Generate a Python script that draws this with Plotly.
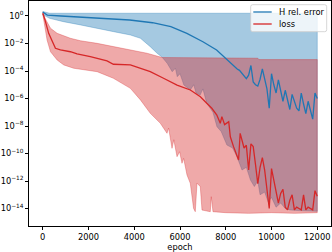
import plotly.graph_objects as go

# ---------------- data (values stored as log10 exponents) ----------------
h_epochs = [0, 200, 800, 1600, 2500, 3800, 4800, 5600, 6300, 7000, 7600, 8000, 8200, 8500,
            8600, 8700, 8800, 8900, 9000, 9100, 9200, 9300, 9400, 9500, 9600, 9700, 9800, 9900,
            10000, 10100, 10200, 10300, 10400, 10500, 10600, 10700, 10800, 10900, 11000, 11100,
            11200, 11300, 11400, 11500, 11600, 11700, 11800, 11900, 12000]
h_log = [0.29, 0.07, 0.0, -0.07, -0.15, -0.29, -0.49, -0.78, -1.26, -1.87, -2.47, -3.08, -3.44, -3.85,
         -3.95, -4.17, -4.35, -4.55, -4.3, -3.6, -4.8, -5.0, -5.1, -4.6, -3.85, -4.6, -5.3, -6.7,
         -4.2, -5.0, -5.6, -4.65, -5.5, -6.2, -5.4, -6.1, -6.8, -5.7, -6.3, -6.7,
         -6.9, -5.6, -6.4, -7.1, -6.2, -6.9, -7.5, -5.6, -6.0]

h_up_epochs = [0, 300, 6000, 12000]
h_up_log = [0.33, 0.2, 0.2, 0.2]

h_lo_epochs = [0, 300, 900, 1650, 2400, 3100, 3830, 4270, 4700, 5000, 5220, 5440, 5660, 5800,
               5880, 6000, 6170, 6450, 6600, 6700, 6880, 7000, 7170, 7440, 7616, 7800, 8050,
               8300, 8490, 8710, 8900, 9080, 9250, 9400, 9500, 9700, 9850, 10000, 10200, 10400,
               10600, 10800, 11200, 11600, 12000]
h_lo_log = [0.1, -0.17, -0.41, -0.65, -0.89, -1.14, -1.38, -1.62, -2.23, -2.71, -3.0, -3.44, -4.05, -3.8,
            -4.41, -4.2, -5.02, -5.38, -5.0, -5.6, -5.75, -5.3, -6.35, -7.0, -8.05, -8.4, -9.38,
            -9.6, -10.23, -11.2, -11.0, -11.93, -12.4, -12.0, -13.0, -12.8, -13.5, -13.2, -13.9, -13.6,
            -14.0, -14.1, -14.15, -14.2, -14.2]

loss_epochs = [0, 100, 260, 410, 555, 773, 1210, 1500, 2080, 2810, 3090, 3830, 4270, 4700, 5280,
               5870, 6450, 6890, 7170, 7390, 7610, 7760, 7830, 7950, 8130, 8200, 8340, 8560, 8630,
               8700, 8800, 8900, 9000, 9100, 9200, 9300, 9400, 9500, 9600, 9700, 9800, 9900,
               10000, 10100, 10200, 10300, 10400, 10500, 10600, 10700, 10800, 10900, 11000, 11100,
               11200, 11300, 11400, 11500, 11600, 11700, 11800, 11900, 12000]
loss_log = [0.2, -0.29, -1.26, -1.87, -2.35, -2.47, -2.6, -2.76, -2.96, -3.27, -3.51, -3.56, -3.8, -4.05, -4.53,
            -5.02, -5.38, -5.87, -6.35, -6.71, -7.2, -7.8, -7.32, -7.9, -7.69, -8.78, -9.5, -10.47, -8.53,
            -9.0, -9.6, -9.4, -11.2, -9.3, -9.5, -10.8, -12.2, -11.0, -10.3, -11.2, -12.8, -14.0,
            -11.1, -12.0, -12.8, -13.6, -12.9, -12.6, -13.9, -14.1, -13.4, -13.0, -14.1, -13.9,
            -14.0, -14.1, -13.0, -14.1, -13.9, -14.0, -14.1, -12.7, -13.1]

loss_up_epochs = [0, 100, 340, 630, 1210, 1650, 2380, 3090, 3830, 4560, 5220, 9400, 9450, 12000]
loss_up_log = [0.31, -0.17, -0.89, -1.26, -1.62, -1.8, -1.99, -2.23, -2.47, -2.71, -3.02, -3.07, -3.17, -3.17]

loss_lo_epochs = [0, 190, 340, 630, 920, 1355, 1790, 2380, 3090, 3830, 4270, 4703, 5140, 5432, 5502,
                  5651, 5730, 5870, 5983, 6088, 6158, 6306, 6450, 6594, 6668, 6743, 6887, 6961, 7324,
                  7367, 7441, 8000, 9000, 10000, 11000, 12000]
loss_lo_log = [0.15, -1.75, -2.6, -3.2, -3.56, -3.8, -3.93, -4.05, -4.53, -5.26, -6.1, -7.08, -7.8, -8.53, -8.15,
               -9.62, -9.0, -10.23, -9.87, -10.71, -10.35, -11.56, -12.17, -13.99, -14.23, -12.15, -12.41, -14.11, -14.23,
               -13.14, -14.23, -14.3, -14.35, -14.3, -14.35, -14.3]

x_tick_vals = [0, 2000, 4000, 6000, 8000, 10000, 12000]
y_tick_exps = [0, -2, -4, -6, -8, -10, -12, -14]
legend_labels = ["H rel. error", "loss"]

# ---------------- styling ----------------
BLUE = "#1f77b4"
RED = "#d62728"
BLUE_FILL = "rgba(31,119,180,0.4)"
RED_FILL = "rgba(214,39,40,0.4)"
FONT = "DejaVu Sans"
FS = 8.3

W, H = 332, 252
L, R, T, B = 29, 1, 1, 26
PW, PH = W - L - R, H - T - B


def pw(v):
    return [10 ** e for e in v]


def band(xu, yu, xl, yl):
    return list(xu) + list(reversed(xl)), pw(yu) + list(reversed(pw(yl)))


fig = go.Figure()

bx, by = band(h_up_epochs, h_up_log, h_lo_epochs, h_lo_log)
fig.add_trace(go.Scatter(x=bx, y=by, fill="toself", fillcolor=BLUE_FILL, mode="lines",
                         line=dict(color="rgba(31,119,180,0.4)", width=0.8), showlegend=False,
                         hoverinfo="skip"))
rx, ry = band(loss_up_epochs, loss_up_log, loss_lo_epochs, loss_lo_log)
fig.add_trace(go.Scatter(x=rx, y=ry, fill="toself", fillcolor=RED_FILL, mode="lines",
                         line=dict(color="rgba(214,39,40,0.4)", width=0.8), showlegend=False,
                         hoverinfo="skip"))
fig.add_trace(go.Scatter(x=h_epochs, y=pw(h_log), mode="lines", name=legend_labels[0],
                         line=dict(color=BLUE, width=1.3), showlegend=False))
fig.add_trace(go.Scatter(x=loss_epochs, y=pw(loss_log), mode="lines", name=legend_labels[1],
                         line=dict(color=RED, width=1.3), showlegend=False))


# ---------------- manual matplotlib-like legend ----------------
def px_x(p):
    return (p - L) / PW


def px_y(p):
    return (H - B - p) / PH


lx0, lx1, ly0, ly1 = 250.7, 326.7, 4.7, 31.7
r = 2.0
path = (f"M{px_x(lx0 + r)},{px_y(ly0)} L{px_x(lx1 - r)},{px_y(ly0)} "
        f"Q{px_x(lx1)},{px_y(ly0)} {px_x(lx1)},{px_y(ly0 + r)} "
        f"L{px_x(lx1)},{px_y(ly1 - r)} Q{px_x(lx1)},{px_y(ly1)} {px_x(lx1 - r)},{px_y(ly1)} "
        f"L{px_x(lx0 + r)},{px_y(ly1)} Q{px_x(lx0)},{px_y(ly1)} {px_x(lx0)},{px_y(ly1 - r)} "
        f"L{px_x(lx0)},{px_y(ly0 + r)} Q{px_x(lx0)},{px_y(ly0)} {px_x(lx0 + r)},{px_y(ly0)} Z")
shapes = [dict(type="path", xref="paper", yref="paper", path=path,
               fillcolor="rgba(255,255,255,0.8)", line=dict(color="#cccccc", width=0.8), layer="above")]
annotations = []
for label, color, yy in [(legend_labels[0], BLUE, 12.0), (legend_labels[1], RED, 24.0)]:
    shapes.append(dict(type="line", xref="paper", yref="paper", x0=px_x(253.3), x1=px_x(271.7),
                       y0=px_y(yy), y1=px_y(yy), line=dict(color=color, width=1.3), layer="above"))
    annotations.append(dict(xref="paper", yref="paper", x=px_x(277.0), y=px_y(yy), text=label,
                            showarrow=False, xanchor="left", yanchor="middle",
                            font=dict(family=FONT, size=FS, color="black")))

axis_common = dict(showgrid=False, zeroline=False, showline=True, mirror=True, linecolor="black",
                   linewidth=0.8, ticks="outside", ticklen=3, tickwidth=0.8, tickcolor="black",
                   automargin=False, tickfont=dict(family=FONT, size=FS, color="black"))

fig.update_layout(
    width=W, height=H, margin=dict(l=L, r=R, t=T, b=B, pad=0),
    paper_bgcolor="white", plot_bgcolor="white",
    font=dict(family=FONT, size=FS, color="black"),
    shapes=shapes, annotations=annotations, showlegend=False,
    xaxis=dict(range=[-600, 12600], tickvals=x_tick_vals, ticktext=[str(v) for v in x_tick_vals],
               title=dict(text="epoch", font=dict(family=FONT, size=FS), standoff=4), **axis_common),
    yaxis=dict(type="log", range=[-15.27, 1.09], tickvals=[10 ** e for e in y_tick_exps],
               ticktext=[f"10<sup>{str(e).replace('-', '−')}</sup>" for e in y_tick_exps], **axis_common),
)

fig.write_html("out.html", config={"displayModeBar": False},
               post_script="document.body.style.margin='0';document.body.style.padding='0';"
                           "document.documentElement.style.overflow='hidden';")
